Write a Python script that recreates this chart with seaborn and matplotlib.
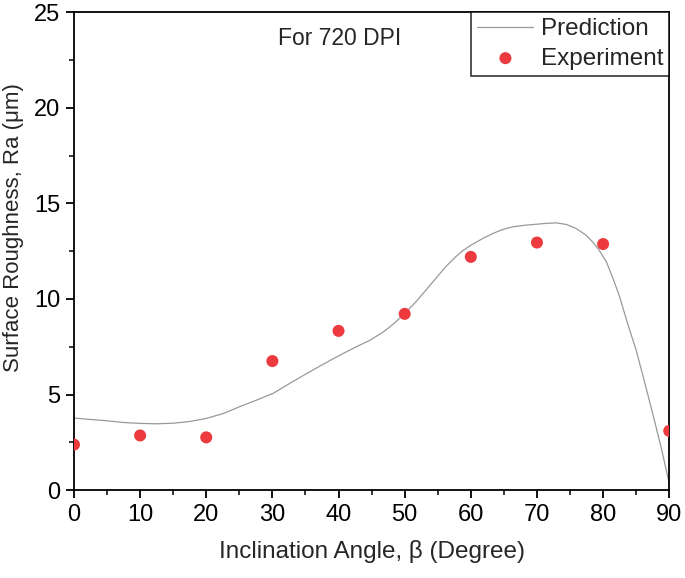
import pandas as pd
import seaborn as sns
import matplotlib.pyplot as plt
from matplotlib.ticker import MultipleLocator

# experiment points
exp_angle = [0, 10, 20, 30, 40, 50, 60, 70, 80, 90]
exp_ra = [2.38, 2.86, 2.76, 6.75, 8.33, 9.22, 12.2, 12.95, 12.87, 3.1]

# prediction curve
pred_angle = [0, 2.4, 4.9, 7.4, 10, 12.5, 15, 17.5, 20, 22.6, 25, 27.6, 30.1,
              32.6, 35.2, 37.7, 40.2, 42.7, 44.8, 46.8, 48.4, 50, 51.7, 53.2,
              54.7, 56.2, 57.7, 58.7, 60, 61.8, 63.3, 64.8, 66.3, 68.3, 70,
              71.4, 72.9, 74.4, 75.9, 77.4, 78.4, 79.4, 80.5, 81.5, 82.5, 83.7,
              85, 86.2, 87.5, 88.8, 90]
pred_ra = [3.77, 3.70, 3.63, 3.54, 3.49, 3.47, 3.50, 3.59, 3.75, 4.01, 4.36,
           4.71, 5.06, 5.58, 6.10, 6.59, 7.06, 7.50, 7.85, 8.28, 8.72, 9.24,
           9.85, 10.46, 11.07, 11.68, 12.20, 12.50, 12.81, 13.16, 13.42, 13.63,
           13.77, 13.86, 13.91, 13.95, 13.98, 13.90, 13.69, 13.34, 12.99, 12.55,
           11.94, 11.07, 10.11, 8.72, 7.32, 5.75, 4.0, 2.2, 0.35]

sns.set_style("ticks")
plt.rcParams['font.family'] = ['Liberation Sans', 'DejaVu Sans']

fig = plt.figure(figsize=(6.85, 5.78), dpi=100)
ax = fig.add_axes([0.108, 0.152, 0.869, 0.827])

pred = pd.DataFrame({"angle": pred_angle, "ra": pred_ra})
exp = pd.DataFrame({"angle": exp_angle, "ra": exp_ra})

sns.lineplot(data=pred, x="angle", y="ra", ax=ax, color="#999999",
             linewidth=0.9, label="Prediction")
sns.scatterplot(data=exp, x="angle", y="ra", ax=ax, color="#ec3a3f",
                s=75, edgecolor="none", label="Experiment", zorder=3)

ax.set_xlim(0, 90)
ax.set_ylim(0, 25)
ax.xaxis.set_major_locator(MultipleLocator(10))
ax.xaxis.set_minor_locator(MultipleLocator(5))
ax.yaxis.set_major_locator(MultipleLocator(5))
ax.yaxis.set_minor_locator(MultipleLocator(2.5))
ax.tick_params(which="major", direction="out", length=6, width=1.3,
               labelsize=17, colors="black", pad=4)
ax.tick_params(which="minor", direction="out", length=3.5, width=1.3)
for sp in ax.spines.values():
    sp.set_linewidth(1.3)
    sp.set_color("black")

ax.set_xlabel("Inclination Angle, β (Degree)", fontsize=17.5, labelpad=10)
ax.set_ylabel("Surface Roughness, Ra (μm)", fontsize=16, labelpad=7)
ax.yaxis.label.set_y(0.55)

ax.text(30.8, 23.6, "For 720 DPI", fontsize=16.5, va="center")

leg = ax.legend(loc="upper right", fontsize=17.5, frameon=True, fancybox=False,
                borderaxespad=0, handlelength=2.3, handletextpad=0.3,
                borderpad=0.25, labelspacing=0.3)
leg.get_frame().set_edgecolor("black")
leg.get_frame().set_linewidth(1.2)

fig.savefig("out.png", dpi=100)
